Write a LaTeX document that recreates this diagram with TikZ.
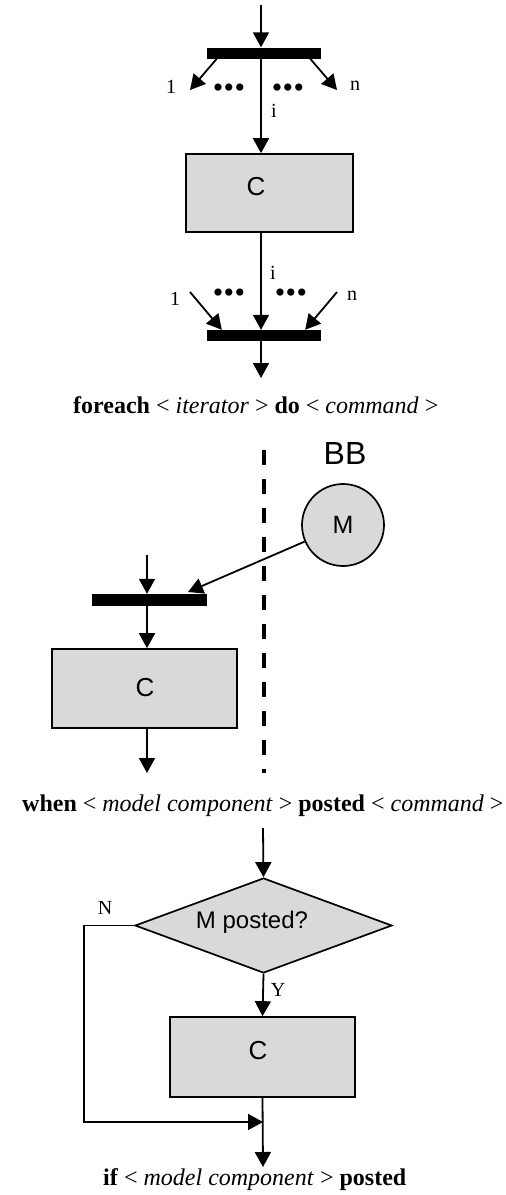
\documentclass[tikz,border=0pt]{standalone}
\usepackage{fontspec}
\setmainfont{Liberation Serif}
\newfontfamily\sansf{Liberation Sans}
\usetikzlibrary{arrows.meta,shapes.geometric}
\definecolor{boxgray}{RGB}{217,217,217}
\newcommand{\tridots}{\textbullet\kern0.3pt\textbullet\kern0.3pt\textbullet}
\begin{document}
\begin{tikzpicture}[x=1pt,y=-1pt,
  arr/.style={line width=1.8pt,-{Triangle[length=15pt,width=16pt]}},
  bar/.style={fill=black,draw=none,minimum width=114pt,minimum height=11pt,inner sep=0pt},
  cbox/.style={draw,line width=1.7pt,fill=boxgray,inner sep=0pt},
  lbl/.style={font=\fontsize{20}{22}\selectfont,inner sep=0pt},
  ctxt/.style={font=\sansf\fontsize{26}{28}\selectfont,inner sep=0pt},
  captxt/.style={font=\fontsize{24}{28}\selectfont,inner sep=0pt,anchor=base west},
  dotst/.style={font=\fontsize{30}{30}\selectfont,inner sep=0pt,text height=7pt,text depth=0pt}
]
\useasboundingbox (0,0) rectangle (506,1195);

% ---------- foreach ----------
\coordinate (t0) at (261,5);
\node[bar] (b1) at (264,53) {};
\node[cbox,minimum width=167pt,minimum height=78pt] (c1) at (269.5,193) {};
\node[ctxt] (c1t) at (256,187) {C};
\node[bar] (b2) at (264,335.5) {};
\coordinate (l1) at (190,90);
\coordinate (r1) at (337,90);
\coordinate (l2) at (190,292);
\coordinate (r2) at (337,292);
\coordinate (o1) at (261,378);

\draw[arr] (t0) -- (t0 |- b1.north);
\draw[arr] (t0 |- b1.south) -- (t0 |- c1.north);
\draw[arr] ([xshift=10pt]b1.south west) -- (l1);
\draw[arr] ([xshift=-11pt]b1.south east) -- (r1);
\draw[arr] (t0 |- c1.south) -- (t0 |- b2.north);
\draw[arr] (l2) -- ([xshift=15pt]b2.north west);
\draw[arr] (r2) -- ([xshift=-16pt]b2.north east);
\draw[arr] (t0 |- b2.south) -- (o1);

\node[lbl] (one1) at (171,87) {1};
\node[lbl] (n1) at (355,86) {n};
\node[lbl] (i1) at (274,111) {i};
\node[dotst] (d1) at (229,94) {\tridots};
\node[dotst] (d2) at (288,94) {\tridots};
\node[lbl] (one2) at (175,299) {1};
\node[lbl] (n2) at (352,296) {n};
\node[lbl] (i2) at (273,273) {i};
\node[dotst] (d3) at (229,299) {\tridots};
\node[dotst] (d4) at (291,299) {\tridots};

\node[captxt] (cap1) at (73,413) {\textbf{foreach} < \textit{iterator} > \textbf{do} < \textit{command} >};

% ---------- when ----------
\coordinate (dtop) at (264,450);
\coordinate (dbot) at (264,773);
\draw[line width=3.5pt,dash pattern=on 15pt off 14pt] (dtop) -- (dbot);
\node[font=\sansf\fontsize{32}{34}\selectfont,inner sep=0pt] (bb) at (345,453) {BB};
\node[circle,draw,line width=1.7pt,fill=boxgray,minimum size=82pt,inner sep=0pt,
      font=\sansf\fontsize{25}{27}\selectfont] (m) at (343,525) {M};
\node[bar,minimum width=115pt,minimum height=12pt] (b3) at (149.5,600) {};
\node[cbox,minimum width=185pt,minimum height=79pt] (c2) at (144.5,688.5) {};
\node[ctxt] (c2t) at (145,688) {C};
\coordinate (t3) at (147,555);
\coordinate (mt) at (188,592);
\coordinate (o3) at (147,773);
\draw[arr] (t3) -- (t3 |- b3.north);
\draw[arr] (m) -- (mt);
\draw[arr] (t3 |- b3.south) -- (t3 |- c2.north);
\draw[arr] (t3 |- c2.south) -- (o3);

\node[captxt] (cap2) at (22,811) {\textbf{when} < \textit{model component} > \textbf{posted} < \textit{command} >};

% ---------- if ----------
\coordinate (t4) at (263,828);
\node[diamond,draw,line width=1.7pt,fill=boxgray,inner sep=0pt,aspect=2.7,
      minimum width=257pt,minimum height=95pt] (dia) at (263.5,925.5) {};
\node[font=\sansf\fontsize{24}{26}\selectfont,inner sep=0pt] (diat) at (252,922) {M posted?};
\node[cbox,minimum width=185pt,minimum height=80pt] (c3) at (262.5,1057) {};
\node[ctxt] (c3t) at (258,1051) {C};
\coordinate (lp) at (84,1122);
\coordinate (jn) at (263,1122);
\coordinate (o4) at (263,1167);
\draw[arr] (t4) -- (dia.north);
\draw[arr] (dia.south) -- (c3.north);
\draw[arr] (dia.west) -| (lp) -- (jn);
\draw[arr] (c3.south) -- (o4);
\node[lbl] (nl) at (105,908) {N};
\node[lbl] (yl) at (278,990) {Y};

\node[captxt] (cap3) at (103,1185) {\textbf{if} < \textit{model component} > \textbf{posted}};
\end{tikzpicture}
\end{document}
